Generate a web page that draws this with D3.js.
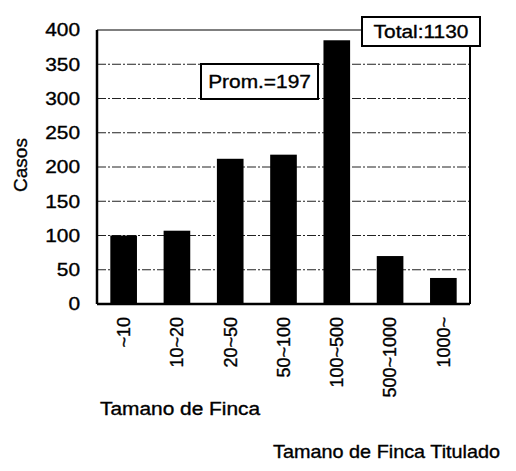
<!DOCTYPE html>
<html>
<head>
<meta charset="utf-8">
<script src="https://cdn.jsdelivr.net/npm/d3@7"></script>
<style>
  body { margin: 0; background: #fff; }
  text { font-family: "Liberation Sans", Arial, sans-serif; fill: #000; stroke: #000; stroke-width: 0.35px; }
</style>
</head>
<body>
<svg id="chart"></svg>
<script>
// categorias y casos
const categories = ["~10", "10~20", "20~50", "50~100", "100~500", "500~1000", "1000~"];
const casos = [100, 107, 212, 218, 385, 70, 38];
const yTicks = [0, 50, 100, 150, 200, 250, 300, 350, 400];
const totalLabel = "Total:1130";
const promLabel = "Prom.=197";

const W = 516, H = 471;
const margin = { top: 30, right: 46, bottom: 167, left: 97 };
const width = W - margin.left - margin.right;
const height = H - margin.top - margin.bottom;
const sx = 1.16; // el escaneo esta estirado en horizontal

const svg = d3.select("#chart").attr("width", W).attr("height", H);
const g = svg.append("g").attr("transform", `translate(${margin.left},${margin.top})`);

const x = d3.scaleBand().domain(categories).range([0, width]).paddingInner(0.5).paddingOuter(0.25);
const y = d3.scaleLinear().domain([0, 400]).range([height, 0]);

// lineas de cuadricula
g.selectAll(".grid")
  .data(yTicks.filter(d => d > 0 && d < 400))
  .enter().append("line")
  .attr("x1", 0).attr("x2", width)
  .attr("y1", d => y(d)).attr("y2", d => y(d))
  .attr("stroke", "#222").attr("stroke-width", 1)
  .attr("stroke-dasharray", "9,2,2,2");

// barras
g.selectAll(".bar")
  .data(casos)
  .enter().append("rect")
  .attr("x", (d, i) => x(categories[i]))
  .attr("y", d => y(d))
  .attr("width", x.bandwidth())
  .attr("height", d => height - y(d))
  .attr("fill", "#000");

// marco
g.append("line").attr("x1", 0).attr("x2", width).attr("y1", 0).attr("y2", 0)
  .attr("stroke", "#000").attr("stroke-width", 1.2);
g.append("line").attr("x1", width).attr("x2", width).attr("y1", 0).attr("y2", height)
  .attr("stroke", "#000").attr("stroke-width", 2);
g.append("line").attr("x1", 0).attr("x2", 0).attr("y1", 0).attr("y2", height)
  .attr("stroke", "#000").attr("stroke-width", 2.5);
g.append("line").attr("x1", 0).attr("x2", width).attr("y1", height).attr("y2", height)
  .attr("stroke", "#000").attr("stroke-width", 2.5);

// eje Y
const yAxis = g.append("g")
  .call(d3.axisLeft(y).tickValues(yTicks).tickSize(0));
yAxis.select(".domain").remove();
yAxis.selectAll("text")
  .style("font-size", "18px")
  .attr("fill", "#000")
  .attr("x", -17 / sx)
  .attr("transform", `scale(${sx},1)`);

// eje X
const xAxis = g.append("g")
  .attr("transform", `translate(0,${height})`)
  .call(d3.axisBottom(x).tickSize(0));
xAxis.select(".domain").remove();
xAxis.selectAll("text")
  .style("font-size", "18px")
  .attr("fill", "#000")
  .attr("transform", "rotate(-90)")
  .attr("text-anchor", "end")
  .attr("dy", "0.35em")
  .attr("dx", "-13")
  .attr("x", 0).attr("y", 0);

// titulo eje Y
svg.append("text")
  .attr("transform", "translate(27,165) rotate(-90)")
  .attr("text-anchor", "middle")
  .style("font-size", "19px")
  .text("Casos");

// texto estirado en horizontal
function hText(x0, y0, label, anchor, k) {
  return svg.append("text")
    .attr("transform", `translate(${x0},${y0}) scale(${sx * (k || 1)},1)`)
    .attr("text-anchor", anchor || "start")
    .style("font-size", "18px")
    .text(label);
}

// titulos eje X
hText(100, 415, "Tamano de Finca");
hText(273, 458, "Tamano de Finca Titulado", "start", 0.95);

// cuadros de texto
function box(x0, y0, w, h, label) {
  svg.append("rect").attr("x", x0).attr("y", y0).attr("width", w).attr("height", h)
    .attr("fill", "#fff").attr("stroke", "#000").attr("stroke-width", 2);
  hText(x0 + w / 2, y0 + h / 2 + 6.5, label, "middle");
}
box(362, 17, 118, 29, totalLabel);
box(201, 64, 117, 35, promLabel);
</script>
</body>
</html>
